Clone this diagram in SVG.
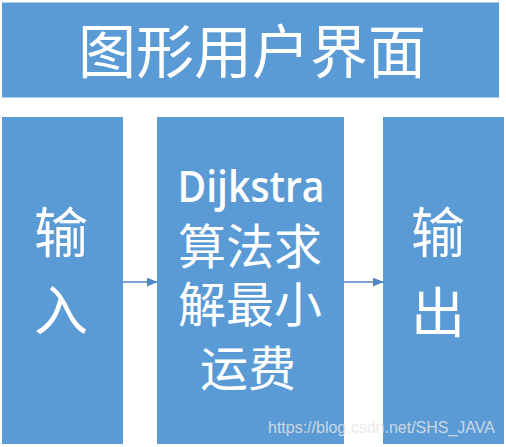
<svg xmlns="http://www.w3.org/2000/svg" width="506" height="447" viewBox="0 0 506 447">
<style>
.box{fill:#5b9bd5}
.cjk{font-family:"Noto Sans CJK SC","Noto Sans",sans-serif;fill:#fff;text-anchor:middle}
.lat{font-family:"Open Sans","Noto Sans","Liberation Sans",sans-serif;fill:#fff;text-anchor:middle;font-weight:600}
.conn{stroke:#4f86c6;stroke-width:1.5;fill:none}
</style>
<defs>
<marker id="ah" markerWidth="11" markerHeight="9" refX="10.3" refY="4.5" orient="auto" markerUnits="userSpaceOnUse" viewBox="0 0 11 9">
<path d="M0,0 L11,4.5 L0,9 Z" fill="#4f86c6"/>
</marker>
</defs>
<rect width="506" height="447" fill="#fff"/>
<g id="gui">
<rect class="box" x="2" y="2.5" width="497" height="95"/>
<text class="cjk" x="252" y="73" font-size="58">图形用户界面</text>
</g>
<g id="input">
<rect class="box" x="2" y="117" width="121" height="327"/>
<text class="cjk" x="61" y="253" font-size="54">输</text>
<text class="cjk" x="61" y="331" font-size="54">入</text>
</g>
<g id="dijkstra">
<rect class="box" x="157" y="117" width="187" height="327"/>
<text class="lat" x="251" y="202" font-size="43" textLength="147" lengthAdjust="spacingAndGlyphs">Dijkstra</text>
<text class="cjk" x="250" y="264" font-size="48">算法求</text>
<text class="cjk" x="250" y="322" font-size="48">解最小</text>
<text class="cjk" x="248" y="386" font-size="48">运费</text>
</g>
<g id="output">
<rect class="box" x="383" y="117" width="121" height="327"/>
<text class="cjk" x="438" y="253" font-size="54">输</text>
<text class="cjk" x="438" y="333" font-size="54">出</text>
</g>
<g id="connectors">
<line class="conn" x1="123" y1="282" x2="157" y2="282" marker-end="url(#ah)"/>
<line class="conn" x1="344" y1="282" x2="383" y2="282" marker-end="url(#ah)"/>
</g>
<text x="268" y="433" font-family="Liberation Sans, Arial, sans-serif" font-size="16.5" fill="#e6e6e6" opacity="0.8" textLength="227" lengthAdjust="spacingAndGlyphs">https://blog.csdn.net/SHS_JAVA</text>
</svg>
